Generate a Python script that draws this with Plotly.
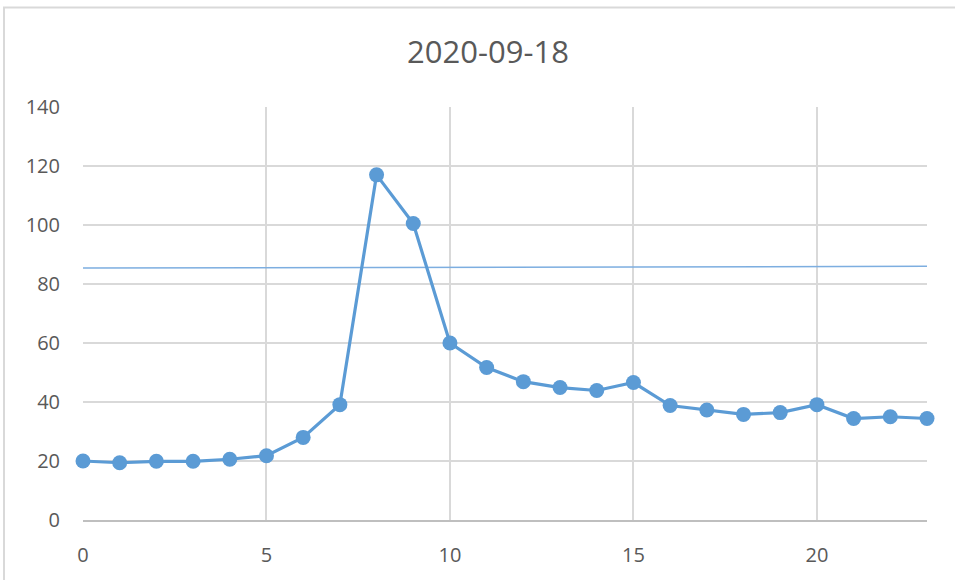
import plotly.graph_objects as go

hours = list(range(24))
values = [20.0, 19.4, 19.9, 19.9, 20.6, 21.8, 28.0, 39.1, 117.0, 100.5, 60.0, 51.7, 46.9, 44.9, 43.9, 46.6,
          38.8, 37.3, 35.8, 36.4, 39.1, 34.4, 35.0, 34.4]
ref_x = [0, 23]
ref_y = [85.4, 86.0]

title_text = "2020-09-18"
x_ticks = [0, 5, 10, 15, 20]
y_ticks = [0, 20, 40, 60, 80, 100, 120, 140]

fig = go.Figure()
fig.add_trace(go.Scatter(x=ref_x, y=ref_y, mode="lines",
                         line=dict(color="#7DAEE0", width=1.5), showlegend=False, hoverinfo="skip"))
fig.add_trace(go.Scatter(x=hours, y=values, mode="lines+markers",
                         line=dict(color="#5B9BD5", width=3.2),
                         marker=dict(color="#5B9BD5", size=15), showlegend=False, cliponaxis=False))

font_family = "Open Sans, Liberation Sans, sans-serif"
fig.update_layout(
    width=955, height=580,
    margin=dict(l=83, r=28, t=107, b=58),
    paper_bgcolor="white", plot_bgcolor="white",
    title=dict(text=title_text, x=488 / 955, xanchor="center", y=1 - 52 / 580, yanchor="middle",
               font=dict(family=font_family, size=31, color="#595959")),
    xaxis=dict(range=[0, 23], tickvals=x_ticks, showgrid=True, gridcolor="#D9D9D9", gridwidth=1.5,
               zeroline=False, showline=True, linecolor="#BFBFBF", linewidth=1.5, ticks="",
               ticklabelstandoff=16,
               tickfont=dict(family=font_family, size=20, color="#595959")),
    yaxis=dict(range=[0, 140], tickvals=y_ticks, showgrid=True, gridcolor="#D9D9D9", gridwidth=1.5,
               zeroline=False, showline=False, ticks="", ticklabelstandoff=22,
               tickfont=dict(family=font_family, size=20, color="#595959")),
    shapes=[dict(type="rect", xref="paper", yref="paper",
                 x0=(4 - 83) / 844, x1=1.2, y0=-0.3, y1=(522 - 7) / 415,
                 line=dict(color="#D9D9D9", width=2), layer="below")],
)

fig.write_html("out.html", config={"displayModeBar": False},
               post_script="document.body.style.margin='0';")
